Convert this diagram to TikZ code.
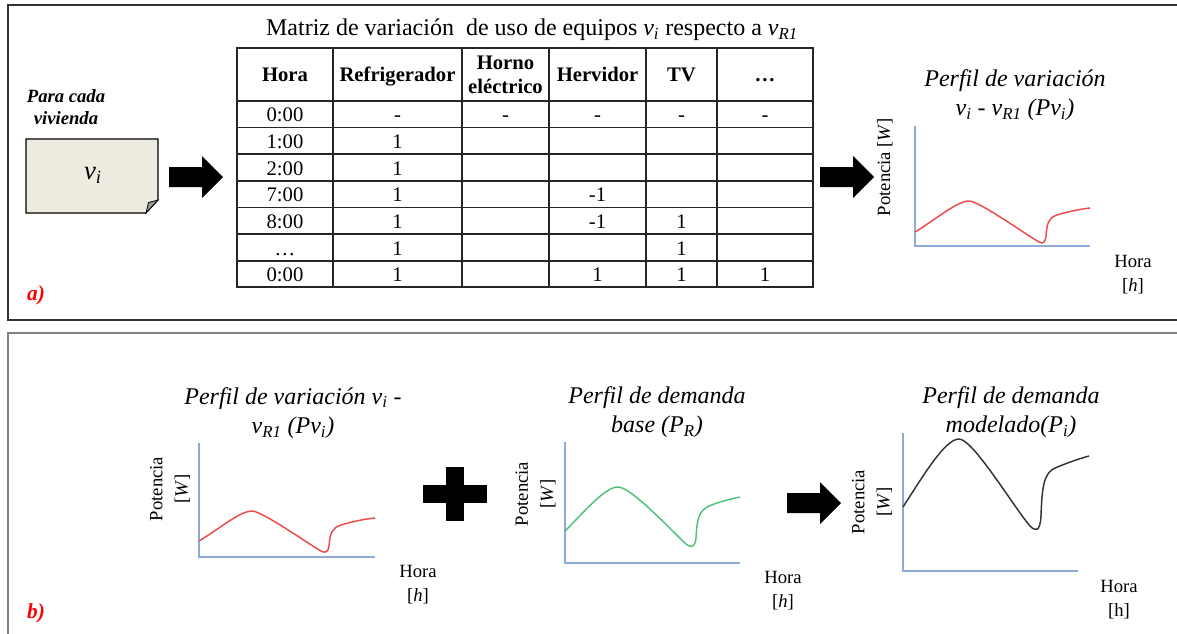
\documentclass[tikz,border=0pt]{standalone}
\usepackage{fontspec}
\setmainfont{Liberation Serif}
\usepackage{tikz}
\usetikzlibrary{calc}
\definecolor{axisblue}{HTML}{8EAADB}
\definecolor{curvered}{HTML}{EE4A4A}
\definecolor{curvegreen}{HTML}{4DC27A}
\definecolor{curveblack}{HTML}{333333}
\definecolor{notefill}{HTML}{EEEBE0}
\definecolor{tagred}{HTML}{FF0000}
\newcommand{\vsub}[1]{\textit{v}\textsubscript{\textit{#1}}}

\tikzset{
  frameline/.style={line width=1.1pt, black!80},
  framegray/.style={line width=1.5pt, black!50},
  tabline/.style={line width=0.9pt, black!85},
  cell/.style={font=\fontsize{15.5}{18}\selectfont, inner sep=0pt, anchor=base},
  headcell/.style={cell, font=\bfseries\fontsize{15.5}{18}\selectfont},
  headtwo/.style={font=\bfseries\fontsize{15.5}{18}\selectfont, inner sep=0pt, align=center},
  tag/.style={font=\bfseries\itshape\fontsize{16}{18}\selectfont, text=tagred},
  charttitle/.style={font=\itshape\fontsize{18}{22}\selectfont, align=center},
  ylab/.style={font=\fontsize{14}{19}\selectfont, align=center, rotate=90},
  xlab/.style={font=\fontsize{14}{18}\selectfont, align=center},
  axis/.style={axisblue, line width=1pt},
  curve/.style={line width=1.1pt},
}

\begin{document}
\begin{tikzpicture}[x=0.75pt, y=-0.75pt]
\useasboundingbox (0,0) rectangle (1177,633);

% frames
\draw[frameline] (8,5) rectangle (1200,320);
\draw[framegray] (8,333) rectangle (1200,660);

% part a)
\node[tag] (taga) at (36,295) {a)};
\node[font=\bfseries\itshape\fontsize{14}{16.5}\selectfont, align=center] (house) at (66,107) {Para cada\\vivienda};

% note sheet
\fill[notefill] (26,139) -- (158,139) -- (158,200) -- (146,213) -- (26,213) -- cycle;
\draw[line width=0.8pt] (26,139) -- (158,139) -- (158,200) -- (146,213) -- (26,213) -- cycle;
\draw[line width=0.6pt, fill=black!40] (158,200) -- (146,213) -- (148.5,202.5) -- cycle;
\node[font=\fontsize{20}{22}\selectfont] (vi) at (93,175) {\vsub{i}};

% block arrows
\fill[shift={(169,177)}] (0,-10) -- (33,-10) -- (33,-21) -- (54,0) -- (33,21) -- (33,10) -- (0,10) -- cycle;
\fill[shift={(820,177)}] (0,-10) -- (33,-10) -- (33,-21) -- (54,0) -- (33,21) -- (33,10) -- (0,10) -- cycle;

% matrix title
\node[font=\fontsize{18}{20}\selectfont] (mtitle) at (532,30) {Matriz de variación \ de uso de equipos \vsub{i} respecto a \vsub{R1}};

% table grid
\draw[tabline] (237,48) rectangle (813,287);
\draw[tabline] (333,48) -- (333,287);
\draw[tabline] (462,48) -- (462,287);
\draw[tabline] (549,48) -- (549,287);
\draw[tabline] (646,48) -- (646,287);
\draw[tabline] (717,48) -- (717,287);
\draw[tabline] (237,101) -- (813,101);
\draw[tabline] (237,127.5) -- (813,127.5);
\draw[tabline] (237,154) -- (813,154);
\draw[tabline] (237,181) -- (813,181);
\draw[tabline] (237,207.5) -- (813,207.5);
\draw[tabline] (237,234) -- (813,234);
\draw[tabline] (237,261) -- (813,261);

% header (base lines)
\node[headcell] (hhora) at (285,81.5) {Hora};
\node[headcell] (hrefri) at (397.5,81.5) {Refrigerador};
\node[headtwo] (hhorno) at (505.5,75) {Horno\\eléctrico};
\node[headcell] (hherv) at (597.5,81.5) {Hervidor};
\node[headcell] (htv) at (681.5,81.5) {TV};
\node[headcell] (hmore) at (765,81.5) {\dots};

% rows (base lines)
\node[cell] (t0) at (285,121.5) {0:00};
\node[cell] (ref0) at (397.5,121.5) {-};
\node[cell] (hor0) at (505.5,121.5) {-};
\node[cell] (her0) at (597.5,121.5) {-};
\node[cell] (tv0) at (681.5,121.5) {-};
\node[cell] (mor0) at (765,121.5) {-};
\node[cell] (t1) at (285,148.5) {1:00};
\node[cell] (ref1) at (397.5,148.5) {1};
\node[cell] (t2) at (285,175) {2:00};
\node[cell] (ref2) at (397.5,175) {1};
\node[cell] (t3) at (285,201.5) {7:00};
\node[cell] (ref3) at (397.5,201.5) {1};
\node[cell] (her3) at (597.5,201.5) {-1};
\node[cell] (t4) at (285,228) {8:00};
\node[cell] (ref4) at (397.5,228) {1};
\node[cell] (her4) at (597.5,228) {-1};
\node[cell] (tv4) at (681.5,228) {1};
\node[cell] (t5) at (285,255) {\dots};
\node[cell] (ref5) at (397.5,255) {1};
\node[cell] (tv5) at (681.5,255) {1};
\node[cell] (t6) at (285,281.5) {0:00};
\node[cell] (ref6) at (397.5,281.5) {1};
\node[cell] (her6) at (597.5,281.5) {1};
\node[cell] (tv6) at (681.5,281.5) {1};
\node[cell] (mor6) at (765,281.5) {1};

% variation profile (top)
\coordinate (o1) at (915,246);
\node[charttitle] (tvar) at (1015,95) {Perfil de variación\\v\textsubscript{i} - v\textsubscript{R1} (Pv\textsubscript{i})};
\node[ylab] (yvar) at (885,167) {Potencia [\textit{W}]};
\node[xlab] (xvar) at (1133,275) {Hora\\{[}\textit{h}{]}};
\draw[axis] ($(o1)+(0,-120)$) -- (o1) -- ($(o1)+(175,0)$);
\draw[curve, curvered, shift={(o1)}] (0,-14) .. controls (20,-26) and (42,-45) .. (54,-45)
  .. controls (64,-45) and (110,-12) .. (124,-4) .. controls (128,-2) and (130,-3) .. (131,-10)
  .. controls (132,-22) and (133,-28) .. (142,-31) .. controls (152,-34) and (165,-37) .. (175,-38);

% part b)
\node[tag] (tagb) at (36,613) {b)};

% variation profile (bottom)
\coordinate (o2) at (199,557);
\node[charttitle] (tvarb) at (293,413) {Perfil de variación v\textsubscript{i} -\\v\textsubscript{R1} (Pv\textsubscript{i})};
\node[ylab] (yvarb) at (170,489) {Potencia\\{[}\textit{W}{]}};
\node[xlab] (xvarb) at (418,585) {Hora\\{[}\textit{h}{]}};
\draw[axis] ($(o2)+(0,-114)$) -- (o2) -- ($(o2)+(176,0)$);
\draw[curve, curvered, shift={(o2)}] (0,-16) .. controls (20,-28) and (41,-46) .. (53,-46)
  .. controls (63,-46) and (108,-14) .. (122,-6) .. controls (126,-4) and (129,-4) .. (130,-11)
  .. controls (131,-24) and (133,-29) .. (142,-32) .. controls (152,-35) and (165,-38) .. (176,-39);

% plus sign
\fill (446,467) rectangle (464,521);
\fill (423,485) rectangle (487,503);

% base demand profile
\coordinate (o3) at (565,563);
\node[charttitle] (tbase) at (657,412) {Perfil de demanda\\base (P\textsubscript{R})};
\node[ylab] (ybase) at (535.5,494) {Potencia\\{[}\textit{W}{]}};
\node[xlab] (xbase) at (783,591) {Hora\\{[}\textit{h}{]}};
\draw[axis] ($(o3)+(0,-121)$) -- (o3) -- ($(o3)+(175,0)$);
\draw[curve, curvegreen, shift={(o3)}] (0,-32) .. controls (20,-52) and (40,-76) .. (53,-76)
  .. controls (66,-76) and (105,-34) .. (121,-19) .. controls (126,-15) and (130,-15) .. (131,-25)
  .. controls (132,-45) and (134,-52) .. (144,-57) .. controls (154,-61) and (165,-64) .. (175,-66);

% arrow to model
\fill[shift={(787,503)}] (0,-10) -- (33,-10) -- (33,-21) -- (54,0) -- (33,21) -- (33,10) -- (0,10) -- cycle;

% modelled demand profile
\coordinate (o4) at (903,571);
\node[charttitle] (tmodel) at (1011,412) {Perfil de demanda\\modelado(P\textsubscript{i})};
\node[ylab] (ymodel) at (872,502) {Potencia\\{[}\textit{W}{]}};
\node[xlab] (xmodel) at (1119,600) {Hora\\{[}h{]}};
\draw[axis] ($(o4)+(0,-138)$) -- (o4) -- ($(o4)+(175,0)$);
\draw[curve, curveblack, shift={(o4)}] (0,-64) .. controls (20,-95) and (42,-132) .. (56,-132)
  .. controls (70,-132) and (110,-65) .. (127,-45) .. controls (132,-40) and (137,-38) .. (138,-55)
  .. controls (139,-85) and (141,-98) .. (152,-103) .. controls (164,-108) and (175,-112) .. (186,-115);

\end{tikzpicture}
\end{document}
